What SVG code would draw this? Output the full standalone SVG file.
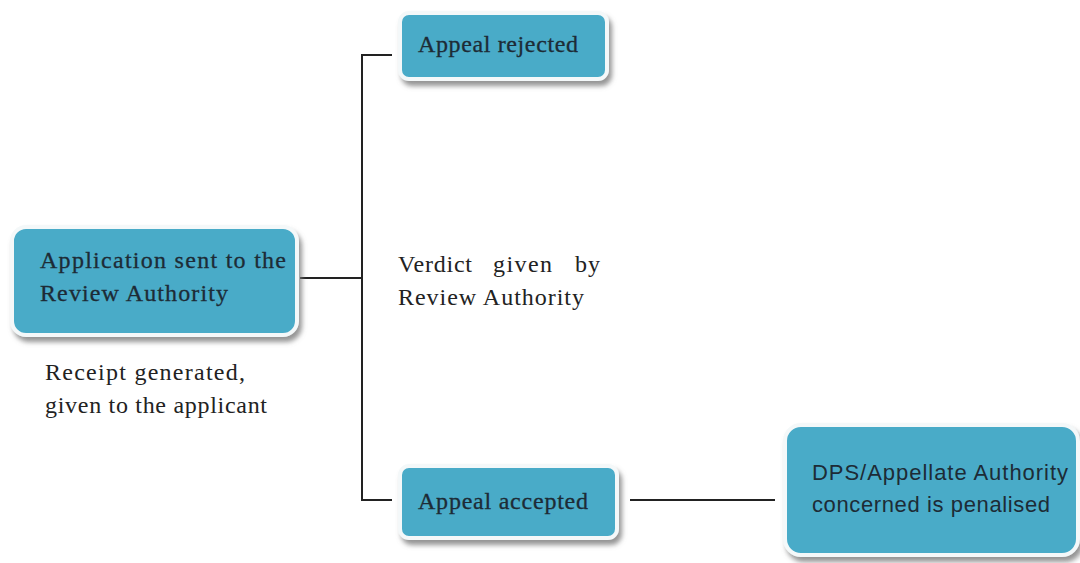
<svg xmlns="http://www.w3.org/2000/svg" width="1080" height="563" viewBox="0 0 1080 563">
<defs>
<filter id="sh" x="-10%" y="-10%" width="125%" height="135%">
<feDropShadow dx="3" dy="5" stdDeviation="2.5" flood-color="#7a7a7a" flood-opacity="0.8"/>
</filter>
</defs>
<style>
.box{fill:#4aabc8;stroke:#f4f8f9;stroke-width:4;filter:url(#sh)}
.serif{font-family:"Liberation Serif","DejaVu Serif",serif;fill:#1d2b36;font-size:24px;stroke:#1d2b36;stroke-width:0.3}
.sans{font-family:"Liberation Sans","Open Sans",sans-serif;fill:#1d2b36;font-size:22px}
.plain{font-family:"Liberation Serif","DejaVu Serif",serif;fill:#222;font-size:24px}
.ln{fill:none;stroke:#222;stroke-width:2}
</style>
<rect width="1080" height="563" fill="#ffffff"/>
<g id="connectors">
<path class="ln" d="M300 278 H362 M392 55 H362 V500 H392 M630 500 H775"/>
</g>
<g id="node-application">
<rect class="box" x="12" y="227" width="285" height="108" rx="14"/>
<text class="serif" x="40" y="268" textLength="246">Application sent to the</text>
<text class="serif" x="40" y="301" textLength="188">Review Authority</text>
</g>
<g id="node-rejected">
<rect class="box" x="400" y="13" width="207" height="66" rx="9"/>
<text class="serif" x="418" y="52" textLength="160">Appeal rejected</text>
</g>
<g id="node-accepted">
<rect class="box" x="400" y="466" width="217" height="72" rx="9"/>
<text class="serif" x="418" y="509" textLength="170">Appeal accepted</text>
</g>
<g id="node-penalised">
<rect class="box" x="785" y="425" width="293" height="130" rx="16"/>
<text class="sans" x="812" y="480" textLength="256">DPS/Appellate Authority</text>
<text class="sans" x="812" y="512" textLength="238">concerned is penalised</text>
</g>
<g id="label-receipt">
<text class="plain" x="45" y="380" textLength="200">Receipt generated,</text>
<text class="plain" x="45" y="413" textLength="222">given to the applicant</text>
</g>
<g id="label-verdict">
<text class="plain" y="272"><tspan x="398" textLength="74">Verdict</tspan><tspan x="493" textLength="59">given</tspan><tspan x="575" textLength="25">by</tspan></text>
<text class="plain" x="398" y="305" textLength="186">Review Authority</text>
</g>
</svg>
